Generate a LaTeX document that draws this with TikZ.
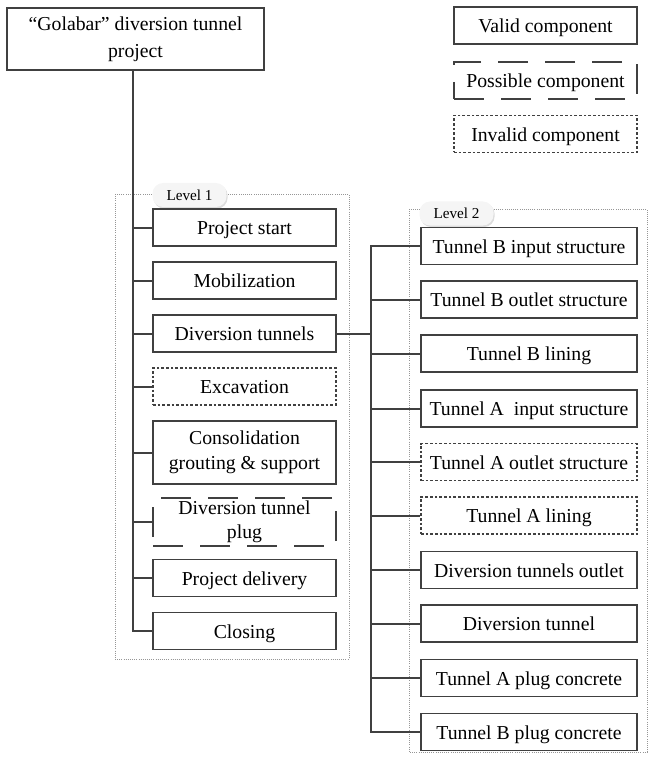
\documentclass[tikz,border=0pt]{standalone}
\usepackage{fontspec}
\setmainfont{Liberation Serif}
\usetikzlibrary{shadows}
\definecolor{lc}{RGB}{64,64,64}
\definecolor{cc}{RGB}{150,150,150}
\begin{document}
\begin{tikzpicture}[x=0.75pt,y=-0.75pt,
 every node/.style={font=\fontsize{14.8}{18}\selectfont},
 ln/.style={draw=lc,line width=1.5pt},
 bx/.style={draw=lc,line width=1.4pt,rectangle,inner sep=0pt,align=center,minimum height=27.75pt},
 one/.style={text height=12.5pt,text depth=1.5pt},
 l1/.style={bx,one,minimum width=137.25pt},
 l2/.style={bx,one,minimum width=162pt},
 inval/.style={dash pattern=on 2pt off 1.5pt},
 poss/.style={dash pattern=on 22.5pt off 12.75pt},
 cont/.style={draw=cc,densely dotted,line width=0.6pt},
 pill/.style={fill=gray!8,rounded corners=8pt,minimum width=55.5pt,minimum height=18pt,inner sep=0pt,
   font=\fontsize{11.4}{13}\selectfont,
   drop shadow={shadow xshift=0.8pt,shadow yshift=-1.2pt,fill=gray!45,opacity=0.6}}
]
\useasboundingbox (0,0) rectangle (649,759);
% containers
\draw[cont] (115,194) rectangle (349,659);
\draw[cont] (409,209) rectangle (647,752);
\node[pill] (lv1) at (189.5,195) {Level 1};
\node[pill] (lv2) at (456.5,213.5) {Level 2};
% root
\node[bx,minimum width=192.75pt,minimum height=46.5pt,font=\fontsize{14.8}{20}\selectfont] (root) at (135.5,39) {“Golabar” diversion tunnel\\project};
% legend
\node[l1] (lgv) at (545.5,25.5) {Valid component};
\node[l1,poss] (lgp) at (545.5,80.5) {Possible component};
\node[l1,inval] (lgi) at (545.5,134) {Invalid component};
% level 1
\node[l1] (ps) at (244.5,227.5) {Project start};
\node[l1] (mob) at (244.5,280.5) {Mobilization};
\node[l1] (dt) at (244.5,333.5) {Diversion tunnels};
\node[l1,inval] (exc) at (244.5,386.5) {Excavation};
\node[bx,minimum width=137.25pt,minimum height=47.25pt,font=\fontsize{14.8}{19}\selectfont] (cons) at (244.5,452.5) {Consolidation\\grouting \& support};
\node[bx,poss,minimum width=137.25pt,minimum height=36pt] (plug) at (244.5,522) {Diversion tunnel\\plug};
\node[l1] (del) at (244.5,578) {Project delivery};
\node[l1] (clo) at (244.5,631) {Closing};
% level 2
\node[l2] (b1) at (529,246) {Tunnel B input structure};
\node[l2] (b2) at (529,299.5) {Tunnel B outlet structure};
\node[l2] (b3) at (529,353.5) {Tunnel B lining};
\node[l2] (b4) at (529,408.5) {Tunnel A~ input structure};
\node[l2,inval] (b5) at (529,462) {Tunnel A outlet structure};
\node[l2,inval] (b6) at (529,515.5) {Tunnel A lining};
\node[l2] (b7) at (529,570) {Diversion tunnels outlet};
\node[l2] (b8) at (529,623.5) {Diversion tunnel};
\node[l2] (b9) at (529,678) {Tunnel A plug concrete};
\node[l2] (b10) at (529,732) {Tunnel B plug concrete};
% connectors
\coordinate (t1) at (133,0);
\coordinate (t2) at (371,0);
\draw[ln] (root.south -| t1) |- (clo.west);
\foreach \n in {ps,mob,dt,exc,cons,plug,del}
  \draw[ln] (t1 |- \n.west) -- (\n.west);
\draw[ln] (dt.east) -- (dt.east -| t2);
\draw[ln] (b1.west) -| (t2 |- b10.west) -- (b10.west);
\foreach \n in {b2,b3,b4,b5,b6,b7,b8,b9}
  \draw[ln] (t2 |- \n.west) -- (\n.west);
\end{tikzpicture}
\end{document}
